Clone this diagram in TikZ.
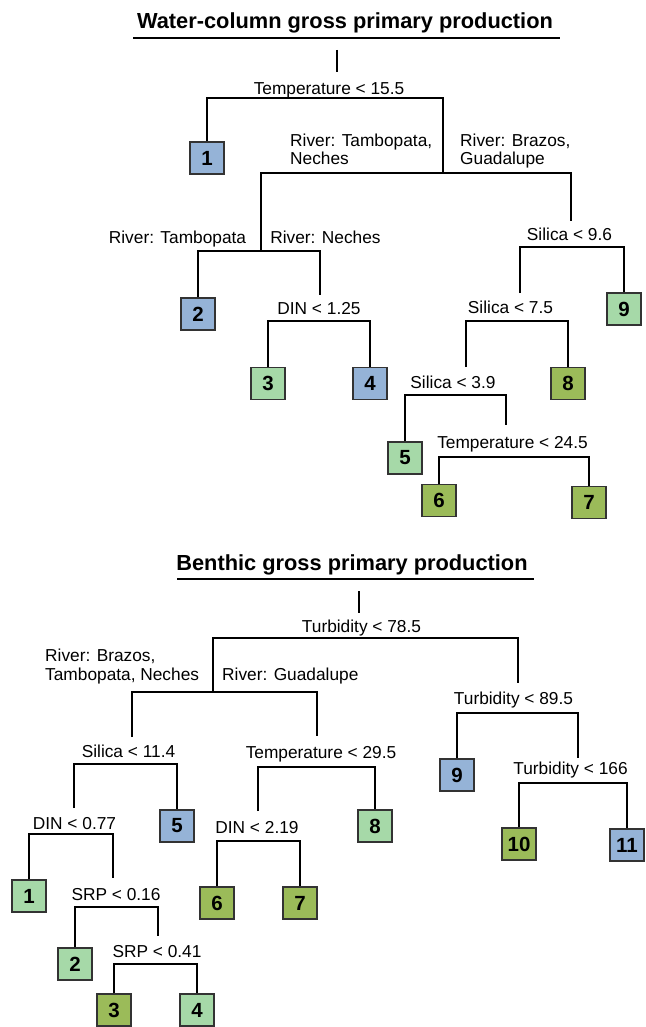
\documentclass[tikz,border=0pt]{standalone}
\usepackage{fontspec}
\setmainfont{Liberation Sans}
\definecolor{lblue}{RGB}{149,179,215}
\definecolor{lgreen}{RGB}{166,217,168}
\definecolor{olive}{RGB}{155,187,89}
\tikzset{
  lab/.style={font=\fontsize{17.3}{20}\selectfont, inner sep=0pt, anchor=base},
  labw/.style={font=\fontsize{17.3}{20}\selectfont, inner sep=0pt, anchor=base west},
  ttl/.style={font=\bfseries\fontsize{21.8}{26}\selectfont, inner sep=0pt, anchor=base},
  leaf/.style={draw=black!80, line width=1.2pt, minimum width=34pt, minimum height=32pt, inner sep=0pt, font=\bfseries\fontsize{20.5}{24}\selectfont},
  bl/.style={leaf, fill=lblue},
  lg/.style={leaf, fill=lgreen},
  ol/.style={leaf, fill=olive},
  br/.style={line width=1.7pt, black},
}
\begin{document}
\begin{tikzpicture}[x=1pt,y=-1pt]
\useasboundingbox (0,0) rectangle (645,1027);
% ---------------- top tree ----------------
\node[ttl] (t1) at (345,29) {Water-column gross primary production};
\coordinate (u1a) at (133,38); \coordinate (u1b) at (560,38);
\draw[line width=1.2pt] (u1a) -- (u1b);

\node[lab] (tlA) at (329,94.5) {Temperature < 15.5};
\node[labw] (tlB1) at (290,146.5) {River: Tambopata,};
\node[labw] (tlB2) at (290,164.5) {Neches};
\node[labw] (tlB3) at (460,146.5) {River: Brazos,};
\node[labw] (tlB4) at (460,164.5) {Guadalupe};
\node[lab] (tlC1) at (177.5,243) {River: Tambopata};
\node[lab] (tlC2) at (325.5,243) {River: Neches};
\node[lab] (tlD) at (319,314) {DIN < 1.25};
\node[lab] (tlE) at (569.5,240) {Silica < 9.6};
\node[lab] (tlF) at (510.5,313) {Silica < 7.5};
\node[lab] (tlG) at (453,388) {Silica < 3.9};
\node[lab] (tlH) at (512.5,448) {Temperature < 24.5};

\node[bl] (T1) at (207,158) {1};
\node[bl] (T2) at (198,314) {2};
\node[lg] (T3) at (268,383.5) {3};
\node[bl] (T4) at (370,383.5) {4};
\node[lg] (T5) at (405,458) {5};
\node[ol] (T6) at (439,500.5) {6};
\node[ol] (T7) at (589,502.5) {7};
\node[ol] (T8) at (568,383.5) {8};
\node[lg] (T9) at (624,309) {9};

\coordinate (ts0) at (337,50); \coordinate (ts1) at (337,72);
\draw[br] (ts0) -- (ts1);
% split A
\coordinate (tAl) at (207,98); \coordinate (tAr) at (443,98); \coordinate (tAe) at (443,173);
\draw[br] (T1.north) -- (tAl) -- (tAr) -- (tAe);
% split B
\coordinate (tBl) at (261,173); \coordinate (tBr) at (571,173);
\coordinate (tBle) at (261,251); \coordinate (tBre) at (571,221);
\draw[br] (tBle) -- (tBl) -- (tBr) -- (tBre);
% split C
\coordinate (tCl) at (198,251); \coordinate (tCr) at (320,251); \coordinate (tCre) at (320,295);
\draw[br] (T2.north) -- (tCl) -- (tCr) -- (tCre);
% split D
\coordinate (tDl) at (268,321); \coordinate (tDr) at (370,321);
\draw[br] (T3.north) -- (tDl) -- (tDr) -- (T4.north);
% split E
\coordinate (tEl) at (520,247); \coordinate (tEr) at (624,247); \coordinate (tEle) at (520,293);
\draw[br] (tEle) -- (tEl) -- (tEr) -- (T9.north);
% split F
\coordinate (tFl) at (466,321); \coordinate (tFr) at (568,321); \coordinate (tFle) at (466,367);
\draw[br] (tFle) -- (tFl) -- (tFr) -- (T8.north);
% split G
\coordinate (tGl) at (405,395); \coordinate (tGr) at (506,395); \coordinate (tGre) at (506,425);
\draw[br] (T5.north) -- (tGl) -- (tGr) -- (tGre);
% split H
\coordinate (tHl) at (439,457); \coordinate (tHr) at (589,457);
\draw[br] (T6.north) -- (tHl) -- (tHr) -- (T7.north);

% ---------------- bottom tree ----------------
\node[ttl] (t2) at (352,570.5) {Benthic gross primary production};
\coordinate (u2a) at (177,579); \coordinate (u2b) at (534,579);
\draw[line width=1.2pt] (u2a) -- (u2b);

\node[lab] (blA) at (361.5,632) {Turbidity < 78.5};
\node[labw] (blB1) at (45,661) {River: Brazos,};
\node[labw] (blB2) at (45,680) {Tambopata, Neches};
\node[labw] (blB3) at (222,680) {River: Guadalupe};
\node[lab] (blC) at (128.5,757) {Silica < 11.4};
\node[lab] (blD) at (321,758) {Temperature < 29.5};
\node[lab] (blE) at (513.5,704) {Turbidity < 89.5};
\node[lab] (blF) at (570.5,774) {Turbidity < 166};
\node[lab] (blG) at (74.5,829) {DIN < 0.77};
\node[lab] (blJ) at (257,833) {DIN < 2.19};
\node[lab] (blH) at (116,900) {SRP < 0.16};
\node[lab] (blI) at (157,957) {SRP < 0.41};

\node[lg] (B1) at (29,896) {1};
\node[lg] (B2) at (75,964) {2};
\node[ol] (B3) at (114,1010) {3};
\node[lg] (B4) at (197,1010) {4};
\node[bl] (B5) at (177,826) {5};
\node[ol] (B6) at (217,903) {6};
\node[ol] (B7) at (300,903) {7};
\node[lg] (B8) at (375,826) {8};
\node[bl] (B9) at (457,775) {9};
\node[ol] (B10) at (519,844) {10};
\node[bl] (B11) at (627,845) {11};

\coordinate (bs0) at (359,591); \coordinate (bs1) at (359,613);
\draw[br] (bs0) -- (bs1);
% split A
\coordinate (bAl) at (213,638); \coordinate (bAr) at (518,638);
\coordinate (bAle) at (213,692); \coordinate (bAre) at (518,683);
\draw[br] (bAle) -- (bAl) -- (bAr) -- (bAre);
% split B
\coordinate (bBl) at (132,692); \coordinate (bBr) at (317,692);
\coordinate (bBle) at (132,737); \coordinate (bBre) at (317,736);
\draw[br] (bBle) -- (bBl) -- (bBr) -- (bBre);
% split C
\coordinate (bCl) at (74,764); \coordinate (bCr) at (177,764); \coordinate (bCle) at (74,808);
\draw[br] (bCle) -- (bCl) -- (bCr) -- (B5.north);
% split D
\coordinate (bDl) at (258,767); \coordinate (bDr) at (375,767); \coordinate (bDle) at (258,811);
\draw[br] (bDle) -- (bDl) -- (bDr) -- (B8.north);
% split E
\coordinate (bEl) at (457,713); \coordinate (bEr) at (578,713); \coordinate (bEre) at (578,758);
\draw[br] (B9.north) -- (bEl) -- (bEr) -- (bEre);
% split F
\coordinate (bFl) at (519,783); \coordinate (bFr) at (627,783);
\draw[br] (B10.north) -- (bFl) -- (bFr) -- (B11.north);
% split G
\coordinate (bGl) at (29,834); \coordinate (bGr) at (113,834); \coordinate (bGre) at (113,878);
\draw[br] (B1.north) -- (bGl) -- (bGr) -- (bGre);
% split H
\coordinate (bHl) at (75,907); \coordinate (bHr) at (158,907); \coordinate (bHre) at (158,936);
\draw[br] (B2.north) -- (bHl) -- (bHr) -- (bHre);
% split I
\coordinate (bIl) at (114,964); \coordinate (bIr) at (197,964);
\draw[br] (B3.north) -- (bIl) -- (bIr) -- (B4.north);
% split J
\coordinate (bJl) at (217,841); \coordinate (bJr) at (300,841);
\draw[br] (B6.north) -- (bJl) -- (bJr) -- (B7.north);
\end{tikzpicture}
\end{document}
